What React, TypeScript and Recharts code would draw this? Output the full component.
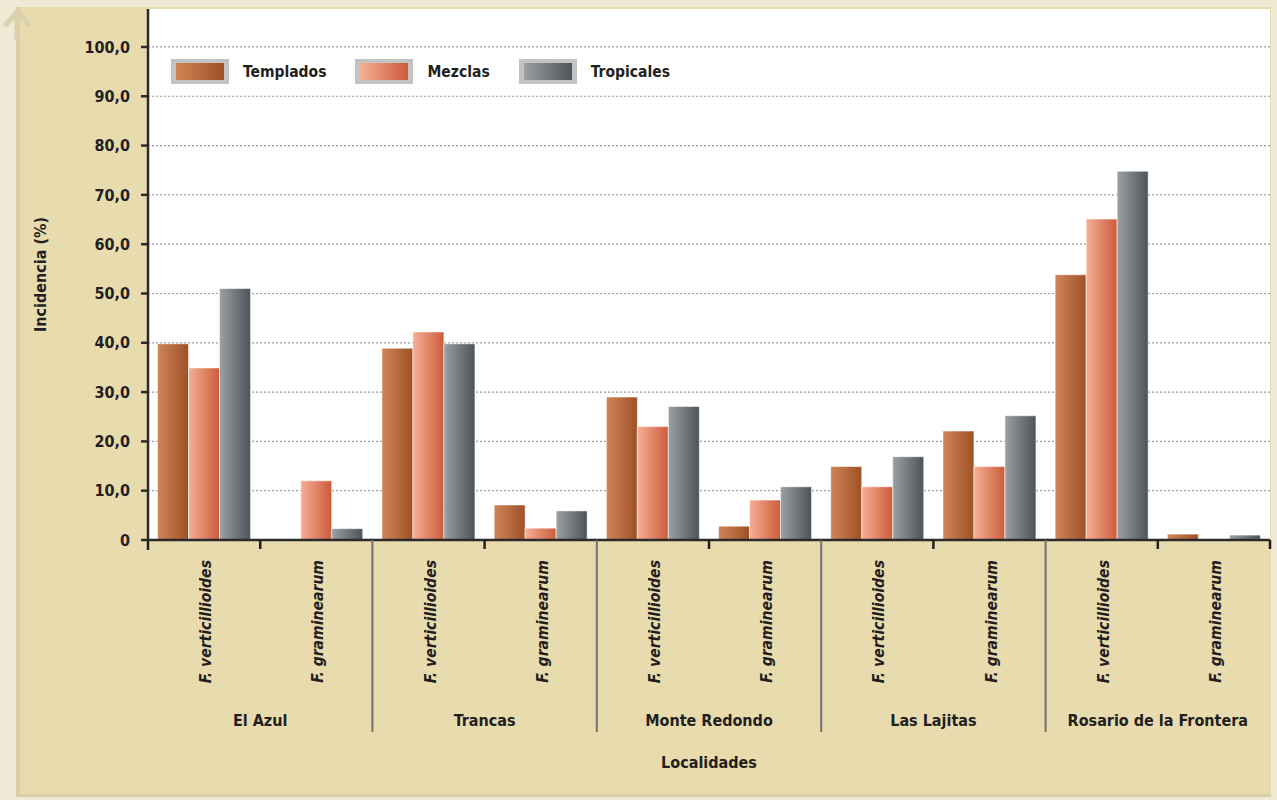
import React from "react";
import { BarChart, Bar, XAxis, YAxis, CartesianGrid } from "recharts";

const locations = ["El Azul", "Trancas", "Monte Redondo", "Las Lajitas", "Rosario de la Frontera"];
const species = ["F. verticillioides", "F. graminearum"];
const templados = [39.8, 0, 38.9, 7.1, 29.0, 2.8, 14.9, 22.1, 53.8, 1.2];
const mezclas = [34.9, 12.0, 42.2, 2.4, 23.0, 8.1, 10.8, 14.9, 65.1, 0];
const tropicales = [51.0, 2.3, 39.8, 5.9, 27.1, 10.8, 16.9, 25.2, 74.8, 1.0];
const yTicks = [0, 10, 20, 30, 40, 50, 60, 70, 80, 90, 100];

const seriesNames = ["Templados", "Mezclas", "Tropicales"];
const seriesKeys = ["t", "m", "tr"];
const gradients = [
  ["#cf8657", "#9f5026"],
  ["#f4b095", "#cc5b3a"],
  ["#9ca0a3", "#4d535a"],
];

const data = templados.map((_, i) => ({
  loc: locations[Math.floor(i / 2)],
  sp: species[i % 2],
  t: templados[i],
  m: mezclas[i],
  tr: tropicales[i],
}));

const FONT = "'DejaVu Sans Condensed', 'DejaVu Sans', sans-serif";
const TEXT = "#231f20";
const W = 1277;
const H = 800;
const M = { top: 9, right: 7, left: 20, bottom: 20 };
const YAXIS_W = 128;
const XAXIS_H = 240;
const PLOT_BOTTOM = H - M.bottom - XAXIS_H;

const fmt = (v: number) => (v === 0 ? "0" : v.toFixed(1).replace(".", ","));

const XTick = (props: any) => {
  const { x, index, payload } = props;
  const half = payload && payload.offset ? payload.offset : 56;
  const d = data[index];
  const last = index === data.length - 1;
  const labY = PLOT_BOTTOM + 20;
  return (
    <g>
      <text
        x={x + 2}
        y={labY}
        transform={`rotate(-90 ${x + 2} ${labY})`}
        textAnchor="end"
        dominantBaseline="central"
        fontFamily={FONT}
        fontWeight="bold"
        fontStyle="italic"
        fontSize={15.6}
        fill={TEXT}
      >
        {d.sp}
      </text>
      {index === 0 && (
        <line x1={x - half} x2={x - half} y1={PLOT_BOTTOM} y2={PLOT_BOTTOM + 10} stroke="#231f20" strokeWidth={2.5} />
      )}
      {index % 2 === 0 && (
        <>
          <line x1={x + half} x2={x + half} y1={PLOT_BOTTOM} y2={PLOT_BOTTOM + 9} stroke="#231f20" strokeWidth={2.5} />
          <text
            x={x + half}
            y={PLOT_BOTTOM + 180}
            textAnchor="middle"
            dominantBaseline="central"
            fontFamily={FONT}
            fontWeight="bold"
            fontSize={16}
            fill={TEXT}
          >
            {d.loc}
          </text>
        </>
      )}
      {index % 2 === 1 && !last && (
        <line x1={x + half} x2={x + half} y1={PLOT_BOTTOM} y2={PLOT_BOTTOM + 192} stroke="#707070" strokeWidth={2} />
      )}
      {last && (
        <line x1={x + half} x2={x + half} y1={PLOT_BOTTOM} y2={PLOT_BOTTOM + 9} stroke="#231f20" strokeWidth={2.5} />
      )}
    </g>
  );
};

const YLabel = (props: any) => {
  const vb = props.viewBox || { x: 0, y: 0, height: 0 };
  const cx = vb.x + 20;
  const cy = vb.y + vb.height / 2;
  return (
    <text
      x={cx}
      y={cy}
      transform={`rotate(-90 ${cx} ${cy})`}
      textAnchor="middle"
      dominantBaseline="central"
      fontFamily={FONT}
      fontWeight="bold"
      fontSize={16}
      fill={TEXT}
    >
      Incidencia (%)
    </text>
  );
};

const Legend = () => (
  <div
    style={{
      position: "absolute",
      left: 171,
      top: 59,
      display: "flex",
      alignItems: "center",
      fontFamily: FONT,
      fontWeight: "bold",
      fontSize: 15.5,
      color: TEXT,
    }}
  >
    {seriesNames.map((n, i) => (
      <div key={n} style={{ display: "flex", alignItems: "center", marginRight: 29 }}>
        <div style={{ width: 58, height: 25, background: "#c3c3c3", boxSizing: "border-box", padding: "4px 5px" }}>
          <div
            style={{
              width: "100%",
              height: "100%",
              background: `linear-gradient(to right, ${gradients[i][0]}, ${gradients[i][1]})`,
            }}
          />
        </div>
        <span style={{ marginLeft: 14 }}>{n}</span>
      </div>
    ))}
  </div>
);

export default function App() {
  return (
    <div style={{ position: "absolute", left: 0, top: 0, width: W, height: H, background: "#f0e9d5", overflow: "hidden" }}>
      <div
        style={{
          position: "absolute",
          left: 16,
          top: 7,
          width: 1255,
          height: 790,
          background: "#e8dbae",
          borderLeft: "4px solid #d9cea4",
          borderBottom: "3px solid #d9cea4",
          boxSizing: "border-box",
        }}
      />
      <svg style={{ position: "absolute", left: 0, top: 0 }} width={40} height={40}>
        <polyline points="5,26 17,12 29,26" fill="none" stroke="#dcd1ad" strokeWidth={5} />
        <line x1={17} y1={12} x2={17} y2={40} stroke="#dcd1ad" strokeWidth={5} />
      </svg>
      <div style={{ position: "absolute", left: 0, top: 0 }}>
        <BarChart width={W} height={H} data={data} margin={M} barCategoryGap="8.5%" barGap={0}>
          <defs>
            {gradients.map((g, i) => (
              <linearGradient key={i} id={`grad${i}`} x1="0" y1="0" x2="1" y2="0">
                <stop offset="0%" stopColor={g[0]} />
                <stop offset="100%" stopColor={g[1]} />
              </linearGradient>
            ))}
          </defs>
          <CartesianGrid
            vertical={false}
            fill="#ffffff"
            stroke="#9a9a9a"
            strokeDasharray="2 2"
            strokeWidth={1.2}
            horizontalValues={yTicks.slice(1)}
          />
          <XAxis
            dataKey="sp"
            height={XAXIS_H}
            interval={0}
            tickLine={false}
            axisLine={{ stroke: "#2b2b2b", strokeWidth: 2.5 }}
            tick={<XTick />}
            label={{
              value: "Localidades",
              position: "insideBottom",
              offset: 12,
              fontFamily: FONT,
              fontWeight: "bold",
              fontSize: 16,
              fill: TEXT,
            }}
          />
          <YAxis
            width={YAXIS_W}
            domain={[0, 107.7]}
            ticks={yTicks}
            interval={0}
            tickFormatter={fmt}
            tickSize={7}
            tickMargin={11}
            tickLine={{ stroke: "#2b2b2b", strokeWidth: 2.5 }}
            axisLine={{ stroke: "#2b2b2b", strokeWidth: 2.5 }}
            tick={{ fontFamily: FONT, fontWeight: "bold", fontSize: 16, fill: TEXT }}
            label={<YLabel />}
          />
          {seriesKeys.map((k, i) => (
            <Bar
              key={k}
              dataKey={k}
              name={seriesNames[i]}
              fill={`url(#grad${i})`}
              stroke="rgba(255,255,255,0.55)"
              strokeWidth={1}
              isAnimationActive={false}
            />
          ))}
        </BarChart>
      </div>
      <Legend />
    </div>
  );
}
